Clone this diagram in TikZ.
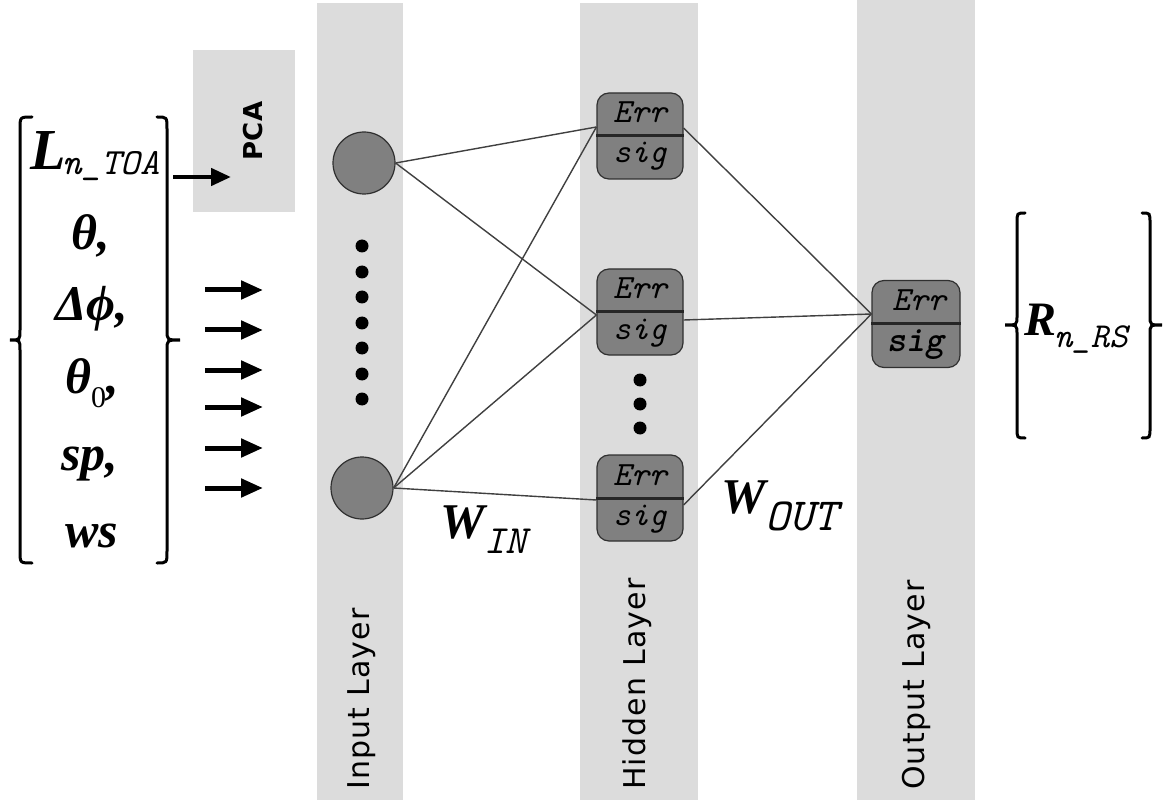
\documentclass[tikz,border=0pt]{standalone}
\usepackage{fontspec}
\usetikzlibrary{arrows.meta}
\newfontfamily\serbi{Liberation Serif}
\newfontfamily\monof{Latin Modern Mono}
\newfontfamily\monoboldf{lmmonolt10-boldoblique.otf}
\newfontfamily\labf{DejaVu Sans}[LetterSpace=4]
\newfontfamily\pcaf{DejaVu Sans}
\definecolor{bandgray}{HTML}{DCDCDC}
\definecolor{nodefill}{HTML}{808080}
\definecolor{edgegray}{HTML}{303030}
\begin{document}
\begin{tikzpicture}[x=1pt,y=-1pt,
  neuron/.style={circle, minimum size=62pt, inner sep=0pt, fill=nodefill, draw=edgegray, line width=1.2pt},
  unit/.style={rectangle, rounded corners=12pt, minimum width=86pt, minimum height=86pt, inner sep=0pt, fill=nodefill, draw=edgegray, line width=1.2pt},
  divider/.style={line width=3pt, draw=black!85},
  unittxt/.style={anchor=base, inner sep=0pt, font=\monof\itshape\fontsize{34}{34}\selectfont},
  link/.style={line width=1.4pt, draw=black!75},
  inarrow/.style={line width=5pt, -{Triangle[length=22pt,width=18pt]}},
  pcaarrow/.style={line width=4.5pt, -{Triangle[length=20pt,width=17pt]}},
  bracepath/.style={line width=3pt, line cap=round},
  dotnode/.style={circle, fill=black, minimum size=13pt, inner sep=0pt},
  bigtxt/.style={anchor=base, inner sep=0pt, font=\serbi\bfseries\itshape\fontsize{50}{50}\selectfont},
  layerlab/.style={rotate=90, anchor=west, inner sep=0pt, font=\labf\fontsize{30}{30}\selectfont},
]
\useasboundingbox (0,0) rectangle (1170,802);
\fill[white] (0,0) rectangle (1170,802);

% layer bands
\fill[bandgray] (317,3) rectangle (403,800);
\fill[bandgray] (580,3) rectangle (698,800);
\fill[bandgray] (857,0) rectangle (975,800);
% PCA box
\node[fill=bandgray, minimum width=102pt, minimum height=162pt, inner sep=0pt] (pcabox) at (244,131) {};
\node[rotate=90, inner sep=0pt, font=\pcaf\bfseries\fontsize{26}{26}\selectfont] (pcatxt) at (253,131) {PCA};

% layer labels
\node[layerlab] (lin) at (362,790) {Input Layer};
\node[layerlab] (lhid) at (637,790) {Hidden Layer};
\node[layerlab] (lout) at (916,790) {Output Layer};

% left input vector
\draw[bracepath] (32,117) .. controls (20,117) .. (20,129) -- (20,330) .. controls (20,340) .. (10,340) .. controls (20,340) .. (20,350) -- (20,551) .. controls (20,563) .. (32,563);
\draw[bracepath] (157,117) .. controls (167,117) .. (167,129) -- (167,330) .. controls (167,340) .. (180,340) .. controls (167,340) .. (167,350) -- (167,551) .. controls (167,563) .. (157,563);

\node[bigtxt, anchor=base west] (vL) at (30,170) {\fontsize{58}{58}\selectfont L\kern-3pt\raisebox{-5pt}{\monof\mdseries\itshape\fontsize{37}{37}\selectfont n\_TOA}};
\node[bigtxt] (vth) at (91,250) {θ,};
\node[bigtxt] (vdp) at (92,320) {Δϕ,};
\node[bigtxt] (vth0) at (92,393) {θ\raisebox{-14pt}{\mdseries\upshape\fontsize{30}{30}\selectfont 0},};
\node[bigtxt] (vsp) at (90,470) {sp,};
\node[bigtxt] (vws) at (92,547) {ws};

% arrows
\coordinate (pa1) at (173,177);
\coordinate (pa2) at (231,177);
\draw[pcaarrow] (pa1) -- (pa2);
\foreach \k/\y in {1/290,2/330,3/370,4/407,5/448,6/488}{
  \coordinate (as\k) at (205,\y);
  \coordinate (ae\k) at (263,\y);
  \draw[inarrow] (as\k) -- (ae\k);
}

% input neurons
\node[neuron] (i1) at (364,163) {};
\node[neuron] (i2) at (362,488) {};
\foreach \k/\y in {1/246,2/272,3/297,4/323,5/348,6/374,7/399}{
  \node[dotnode] (id\k) at (362,\y) {};
}

% hidden units
\node[unit] (h1) at (640,136) {};
\node[unit] (h2) at (640,312) {};
\node[unit] (h3) at (640,498) {};
\foreach \k/\y in {1/380,2/404,3/428}{
  \node[dotnode] (hd\k) at (640,\y) {};
}
% output unit
\node[unit, minimum width=88pt, minimum height=87pt] (o1) at (916,324) {};

\foreach \n in {h1,h2,h3,o1}{
  \draw[divider] (\n.west) -- (\n.east);
}
\foreach \n in {h1,h2,h3}{
  \node[unittxt] (\n err) at ([yshift=13pt]\n.center) {Err};
  \node[unittxt] (\n sig) at ([yshift=-27pt]\n.center) {sig};
}
\node[unittxt] (o1err) at ([yshift=13pt,xshift=3pt]o1.center) {Err};
\node[unittxt, font=\monoboldf\fontsize{36}{36}\selectfont] (o1sig) at ([yshift=-27pt]o1.center) {sig};

% connections
\draw[link] (i1.east) -- ([yshift=9pt]h1.west);
\draw[link] (i1.east) -- ([yshift=-3pt]h2.west);
\draw[link] (i2.east) -- ([yshift=9pt]h1.west);
\draw[link] (i2.east) -- ([yshift=-3pt]h2.west);
\draw[link] (i2.east) -- ([yshift=-2pt]h3.west);
\draw[link] ([yshift=8pt]h1.east) -- ([yshift=10pt]o1.west);
\draw[link] ([yshift=-8pt]h2.east) -- ([yshift=10pt]o1.west);
\draw[link] ([yshift=-7pt]h3.east) -- ([yshift=10pt]o1.west);

% weights
\node[bigtxt, anchor=base west] (win) at (440,538) {W\raisebox{-15pt}{\monof\mdseries\itshape\fontsize{40}{40}\selectfont IN}};
\node[bigtxt, anchor=base west] (wout) at (721,513) {W\raisebox{-17pt}{\monof\mdseries\itshape\fontsize{46}{46}\selectfont OUT}};

% output vector
\draw[bracepath] (1025,213) .. controls (1017,213) .. (1017,223) -- (1017,316) .. controls (1017,325) .. (1005,325) .. controls (1017,325) .. (1017,334) -- (1017,428) .. controls (1017,438) .. (1025,438);
\draw[bracepath] (1142,213) .. controls (1150,213) .. (1150,223) -- (1150,316) .. controls (1150,325) .. (1162,325) .. controls (1150,325) .. (1150,334) -- (1150,428) .. controls (1150,438) .. (1142,438);
\node[bigtxt, anchor=base west] (rout) at (1024,335) {\fontsize{48}{48}\selectfont R\kern-2pt\raisebox{-13pt}{\monof\mdseries\itshape\fontsize{35}{35}\selectfont n\_RS}};
\end{tikzpicture}
\end{document}
